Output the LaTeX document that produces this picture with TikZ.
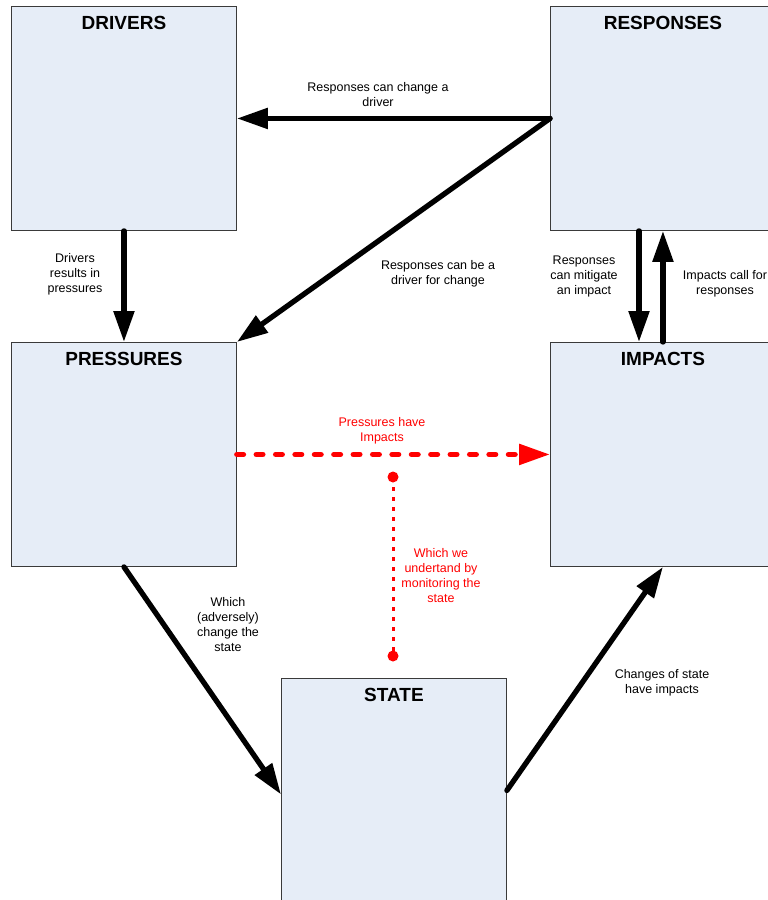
\documentclass[tikz,border=0pt]{standalone}
\usepackage{fontspec}
\setmainfont{Liberation Sans}
\usetikzlibrary{arrows.meta,calc}
\definecolor{boxfill}{HTML}{E6EDF7}
\definecolor{boxline}{HTML}{3A3A3A}
\begin{document}
\begin{tikzpicture}[x=1pt,y=-1pt,
  box/.style={draw=boxline,line width=0.9pt,fill=boxfill,rectangle,minimum width=225pt,minimum height=224pt,anchor=north west,inner sep=0pt},
  title/.style={font=\bfseries\fontsize{19}{20}\selectfont,anchor=base,inner sep=0pt},
  lbl/.style={font=\fontsize{12.5}{15}\selectfont,align=center,inner sep=0pt},
  rlbl/.style={lbl,text=red},
  conn/.style={line width=5.3pt,line cap=round,-{Triangle[length=31pt,width=20pt]}},
  impact/.style={draw=red,line width=5.5pt,line cap=round,dash pattern=on 6.5pt off 12.9pt,-{Triangle[length=31pt,width=20pt,fill=red]}},
  monitor/.style={draw=red,line width=3pt,dash pattern=on 4pt off 6pt}]
\useasboundingbox (0,0) rectangle (768,900);
\begin{scope}
\clip (0,0) rectangle (768,900);
\node[box] (drv) at (11,6) {};
\node[box] (resp) at (550,6) {};
\node[box] (press) at (11,342) {};
\node[box] (imp) at (550,342) {};
\node[box] (state) at (281,678) {};
\end{scope}
\node[title] (tdrv) at ($(drv.north)+(0,23.5)$) {DRIVERS};
\node[title] (tresp) at ($(resp.north)+(0,23.5)$) {RESPONSES};
\node[title] (tpress) at ($(press.north)+(0,23.5)$) {PRESSURES};
\node[title] (timp) at ($(imp.north)+(0,23.5)$) {IMPACTS};
\node[title] (tstate) at ($(state.north)+(0,23.5)$) {STATE};

% connectors
\draw[conn] (resp.west) -- (drv.east);
\draw[conn] (resp.west) -- (press.north east);
\draw[conn] (drv.south) -- (press.north);
\draw[conn] ([xshift=89pt]resp.south west) -- ([xshift=89pt]imp.north west);
\draw[conn] (imp.north) -- (resp.south);
\draw[conn] (press.south) -- ([yshift=-4pt]state.west);
\draw[conn] (state.east) -- (imp.south);
\draw[impact] (press.east) -- (imp.west);
\coordinate (mon1) at (393,477);
\coordinate (mon2) at (393,656);
\draw[monitor] (mon1) -- (mon2);
\fill[red] (mon1) circle (5.5pt) (mon2) circle (5.5pt);

% labels
\node[lbl] (l1) at (378,95) {Responses can change a\\driver};
\node[lbl] (l2) at (438,274) {Responses can be a\\driver for change};
\node[lbl] (l3) at (75,274) {Drivers\\results in\\pressures};
\node[lbl] (l4) at (584,276) {Responses\\can mitigate\\an impact};
\node[lbl] (l5) at (725,284) {Impacts call for\\responses};
\node[rlbl] (l6) at (382,431) {Pressures have\\Impacts};
\node[rlbl] (l7) at (441,576) {Which we\\undertand by\\monitoring the\\state};
\node[lbl] (l8) at (228,625) {Which\\(adversely)\\change the\\state};
\node[lbl] (l9) at (662,683) {Changes of state\\have impacts};
\end{tikzpicture}
\end{document}
